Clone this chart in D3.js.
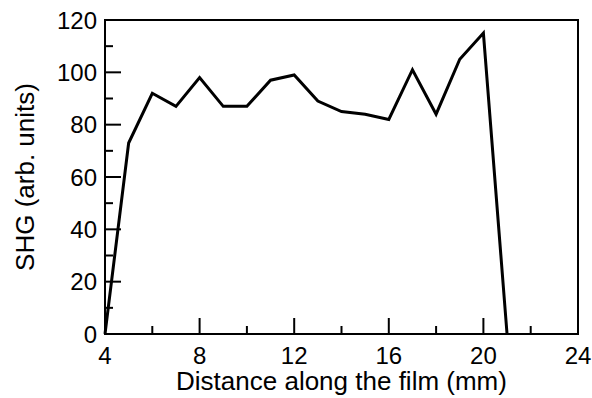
<!DOCTYPE html>
<html>
<head>
<meta charset="utf-8">
<script src="https://cdn.jsdelivr.net/npm/d3@7"></script>
<style>
  body { margin: 0; background: #fff; overflow: hidden; }
  svg { display: block; }
  text { font-family: "Liberation Sans", Arial, sans-serif; fill: #000; }
</style>
</head>
<body>
<div id="chart"></div>
<script>
// data
const distance = [4, 5, 6, 7, 8, 9, 10, 11, 12, 13, 14, 15, 16, 17, 18, 19, 20, 21];
const shg = [0, 73, 92, 87, 98, 87, 87, 97, 99, 89, 85, 84, 82, 101, 84, 105, 115, 0];
const xTicks = [4, 8, 12, 16, 20, 24];
const yTicks = [0, 20, 40, 60, 80, 100, 120];

const width = 592, height = 398;
const margin = {top: 20, right: 14, bottom: 64, left: 105};
const innerWidth = width - margin.left - margin.right;
const innerHeight = height - margin.top - margin.bottom;

const svg = d3.select('#chart').append('svg')
    .attr('width', width)
    .attr('height', height);

const g = svg.append('g')
    .attr('transform', `translate(${margin.left}, ${margin.top})`);

const x = d3.scaleLinear().domain([4, 24]).range([0, innerWidth]);
const y = d3.scaleLinear().domain([0, 120]).range([innerHeight, 0]);

// minor ticks (inward)
const xMinor = d3.range(6, 24, 4);
const yMinor = d3.range(10, 120, 20);

g.selectAll('.xminor').data(xMinor).enter().append('line')
    .attr('x1', d => x(d)).attr('x2', d => x(d))
    .attr('y1', innerHeight).attr('y2', innerHeight - 8)
    .attr('stroke', '#000').attr('stroke-width', 2);
g.selectAll('.xmajor').data(xTicks).enter().append('line')
    .attr('x1', d => x(d)).attr('x2', d => x(d))
    .attr('y1', innerHeight).attr('y2', innerHeight - 16)
    .attr('stroke', '#000').attr('stroke-width', 2);
g.selectAll('.yminor').data(yMinor).enter().append('line')
    .attr('x1', 0).attr('x2', 8)
    .attr('y1', d => y(d)).attr('y2', d => y(d))
    .attr('stroke', '#000').attr('stroke-width', 2);
g.selectAll('.ymajor').data(yTicks).enter().append('line')
    .attr('x1', 0).attr('x2', 16)
    .attr('y1', d => y(d)).attr('y2', d => y(d))
    .attr('stroke', '#000').attr('stroke-width', 2);

// tick labels
g.selectAll('.xlab').data(xTicks).enter().append('text')
    .attr('x', d => x(d)).attr('y', innerHeight + 29.5)
    .attr('text-anchor', 'middle')
    .style('font-size', '24px')
    .text(d => d);
g.selectAll('.ylab').data(yTicks).enter().append('text')
    .attr('x', -8).attr('y', d => y(d))
    .attr('dy', '0.36em')
    .attr('text-anchor', 'end')
    .style('font-size', '24px')
    .text(d => d);

// frame
g.append('rect')
    .attr('width', innerWidth).attr('height', innerHeight)
    .attr('fill', 'none').attr('stroke', '#000').attr('stroke-width', 2);

// data line
const line = d3.line()
    .x((d, i) => x(distance[i]))
    .y(d => y(d));
g.append('path')
    .datum(shg)
    .attr('d', line)
    .attr('fill', 'none')
    .attr('stroke', '#000')
    .attr('stroke-width', 3)
    .attr('stroke-linejoin', 'miter');

// axis titles
svg.append('text')
    .attr('x', margin.left + innerWidth / 2)
    .attr('y', 389.5)
    .attr('text-anchor', 'middle')
    .style('font-size', '26px')
    .text('Distance along the film (mm)');
svg.append('text')
    .attr('transform', `translate(34, ${margin.top + innerHeight / 2}) rotate(-90)`)
    .attr('text-anchor', 'middle')
    .style('font-size', '26px')
    .text('SHG (arb. units)');
</script>
</body>
</html>
